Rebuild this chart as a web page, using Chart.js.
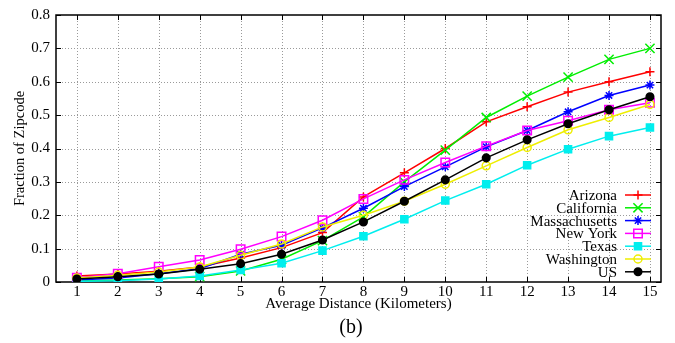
<!DOCTYPE html>
<html>
<head>
<meta charset="utf-8">
<script src="https://cdn.jsdelivr.net/npm/chart.js@4.4.1/dist/chart.umd.min.js"></script>
<style>
  html, body { margin: 0; padding: 0; background: #fff; }
  #wrap { width: 675px; height: 343px; }
</style>
</head>
<body>
<div id="wrap"><canvas id="chart" width="675" height="343"></canvas></div>
<script>
// distances in km (x axis)
const distances = [1, 2, 3, 4, 5, 6, 7, 8, 9, 10, 11, 12, 13, 14, 15];
const yTicks = [0, 0.1, 0.2, 0.3, 0.4, 0.5, 0.6, 0.7, 0.8];

// fraction of zipcodes
const arizona       = [0.018, 0.024, 0.032, 0.045, 0.072, 0.103, 0.148, 0.255, 0.327, 0.400, 0.480, 0.525, 0.569, 0.600, 0.630];
const california    = [0.003, 0.006, 0.010, 0.016, 0.033, 0.068, 0.124, 0.195, 0.300, 0.395, 0.493, 0.557, 0.614, 0.667, 0.700];
const massachusetts = [0.006, 0.012, 0.025, 0.040, 0.083, 0.110, 0.162, 0.221, 0.286, 0.345, 0.405, 0.454, 0.510, 0.559, 0.590];
const newYork       = [0.013, 0.025, 0.046, 0.066, 0.098, 0.136, 0.185, 0.249, 0.306, 0.358, 0.407, 0.454, 0.483, 0.516, 0.537];
const texas         = [0.002, 0.004, 0.009, 0.018, 0.036, 0.056, 0.094, 0.137, 0.188, 0.244, 0.293, 0.350, 0.398, 0.437, 0.463];
const washington    = [0.012, 0.020, 0.030, 0.045, 0.080, 0.114, 0.165, 0.200, 0.242, 0.293, 0.348, 0.403, 0.456, 0.493, 0.532];
const us            = [0.009, 0.016, 0.024, 0.038, 0.055, 0.083, 0.126, 0.180, 0.242, 0.306, 0.372, 0.426, 0.474, 0.516, 0.555];

const FONT = 'Liberation Serif';

const series = [
    { label: 'Arizona',       values: arizona,       color: '#ff0000', style: 'cross',    r: 4.5, fill: true },
    { label: 'California',    values: california,    color: '#00ee00', style: 'crossRot', r: 6.5, fill: true },
    { label: 'Massachusetts', values: massachusetts, color: '#0000ff', style: 'star',     r: 4.5, fill: true },
    { label: 'New York',      values: newYork,       color: '#ff00ff', style: 'rect',     r: 6,   fill: false },
    { label: 'Texas',         values: texas,         color: '#00eeee', style: 'rect',     r: 5,   fill: true },
    { label: 'Washington',    values: washington,    color: '#eeee00', style: 'circle',   r: 4,   fill: false },
    { label: 'US',            values: us,            color: '#000000', style: 'circle',   r: 3.8, fill: true }
];

// small marker painter for the legend samples (same shapes as Chart.js points)
function drawMarker(ctx, s, x, y) {
    const r = s.r;
    ctx.save();
    ctx.strokeStyle = s.color;
    ctx.fillStyle = s.color;
    ctx.lineWidth = 1.5;
    ctx.beginPath();
    if (s.style === 'cross' || s.style === 'star') {
        ctx.moveTo(x - r, y); ctx.lineTo(x + r, y);
        ctx.moveTo(x, y - r); ctx.lineTo(x, y + r);
    }
    if (s.style === 'crossRot' || s.style === 'star') {
        const d = r * Math.SQRT1_2;
        ctx.moveTo(x - d, y - d); ctx.lineTo(x + d, y + d);
        ctx.moveTo(x + d, y - d); ctx.lineTo(x - d, y + d);
    }
    if (s.style === 'rect') {
        const h = r * Math.SQRT1_2;
        ctx.rect(x - h, y - h, 2 * h, 2 * h);
        if (s.fill) ctx.fill();
    }
    if (s.style === 'circle') {
        ctx.arc(x, y, r, 0, Math.PI * 2);
        if (s.fill) ctx.fill();
    }
    ctx.stroke();
    ctx.restore();
}

// grid, frame and inward ticks, gnuplot style
const framePlugin = {
    id: 'frame',
    beforeDatasetsDraw(chart) {
        const { ctx, chartArea: a, scales: { x, y } } = chart;
        ctx.save();
        ctx.strokeStyle = '#9a9a9a';
        ctx.lineWidth = 1;
        ctx.setLineDash([1, 2]);
        ctx.beginPath();
        distances.forEach(d => {
            const px = Math.round(x.getPixelForValue(d)) + 0.5;
            ctx.moveTo(px, a.top); ctx.lineTo(px, a.bottom);
        });
        yTicks.slice(1, -1).forEach(v => {
            const py = Math.round(y.getPixelForValue(v)) + 0.5;
            ctx.moveTo(a.left, py); ctx.lineTo(a.right, py);
        });
        ctx.stroke();
        ctx.setLineDash([]);
        ctx.strokeStyle = '#000';
        ctx.beginPath();
        distances.forEach(d => {
            const px = Math.round(x.getPixelForValue(d)) + 0.5;
            ctx.moveTo(px, a.bottom); ctx.lineTo(px, a.bottom - 5);
            ctx.moveTo(px, a.top); ctx.lineTo(px, a.top + 5);
        });
        yTicks.forEach(v => {
            const py = Math.round(y.getPixelForValue(v)) + 0.5;
            ctx.moveTo(a.left, py); ctx.lineTo(a.left + 5, py);
            ctx.moveTo(a.right, py); ctx.lineTo(a.right - 5, py);
        });
        ctx.stroke();
        ctx.lineWidth = 1.5;
        ctx.strokeRect(a.left, a.top, a.right - a.left, a.bottom - a.top);
        ctx.restore();
    },
    afterDraw(chart) {
        const { ctx, chartArea: a } = chart;
        ctx.save();
        ctx.fillStyle = '#000';
        ctx.textAlign = 'center';
        ctx.textBaseline = 'middle';
        ctx.font = '15px "' + FONT + '"';
        ctx.fillText('Average Distance (Kilometers)', (a.left + a.right) / 2, 304);
        ctx.font = '20px "' + FONT + '"';
        ctx.fillText('(b)', 351, 328);
        ctx.translate(20, (a.top + a.bottom) / 2);
        ctx.rotate(-Math.PI / 2);
        ctx.font = '14.5px "' + FONT + '"';
        ctx.fillText('Fraction of Zipcode', 0, 0);
        ctx.restore();

        // legend: text right-aligned, line sample with marker to the right
        ctx.save();
        ctx.font = '15px "' + FONT + '"';
        ctx.textAlign = 'right';
        ctx.textBaseline = 'middle';
        series.forEach((s, i) => {
            const ly = 195 + i * 12.8;
            ctx.fillStyle = '#000';
            ctx.fillText(s.label, 617, ly + 1);
            ctx.strokeStyle = s.color;
            ctx.lineWidth = 1.5;
            ctx.beginPath();
            ctx.moveTo(625, ly); ctx.lineTo(651, ly);
            ctx.stroke();
            drawMarker(ctx, s, 638, ly);
        });
        ctx.restore();
    }
};

const datasets = series.map((s, i) => ({
    label: s.label,
    data: distances.map((d, j) => ({ x: d, y: s.values[j] })),
    borderColor: s.color,
    backgroundColor: s.color,
    borderWidth: 1.5,
    pointStyle: s.style,
    pointRadius: s.r,
    pointBorderWidth: 1.5,
    pointBorderColor: s.color,
    pointBackgroundColor: s.fill ? s.color : 'rgba(0,0,0,0)',
    tension: 0,
    order: series.length - i
}));

new Chart(document.getElementById('chart'), {
    type: 'line',
    data: { datasets: datasets },
    options: {
        responsive: false,
        animation: false,
        devicePixelRatio: 1,
        layout: { padding: { left: 0, top: 11, right: 14, bottom: 0 } },
        plugins: { legend: { display: false }, tooltip: { enabled: false } },
        scales: {
            x: {
                type: 'linear',
                min: 0.49,
                max: 15.27,
                afterBuildTicks: scale => { scale.ticks = distances.map(v => ({ value: v })); },
                afterFit: scale => { scale.height = 61; },
                ticks: { color: '#000', font: { family: FONT, size: 15 }, padding: 1, maxRotation: 0, autoSkip: false },
                grid: { display: false, drawTicks: false },
                border: { display: false }
            },
            y: {
                min: 0,
                max: 0.8,
                afterBuildTicks: scale => { scale.ticks = yTicks.map(v => ({ value: v })); },
                afterFit: scale => { scale.width = 56; },
                ticks: {
                    color: '#000',
                    font: { family: FONT, size: 15 },
                    padding: 6,
                    callback: v => (v === 0 ? '0' : v.toFixed(1))
                },
                grid: { display: false, drawTicks: false },
                border: { display: false }
            }
        }
    },
    plugins: [framePlugin]
});
</script>
</body>
</html>
